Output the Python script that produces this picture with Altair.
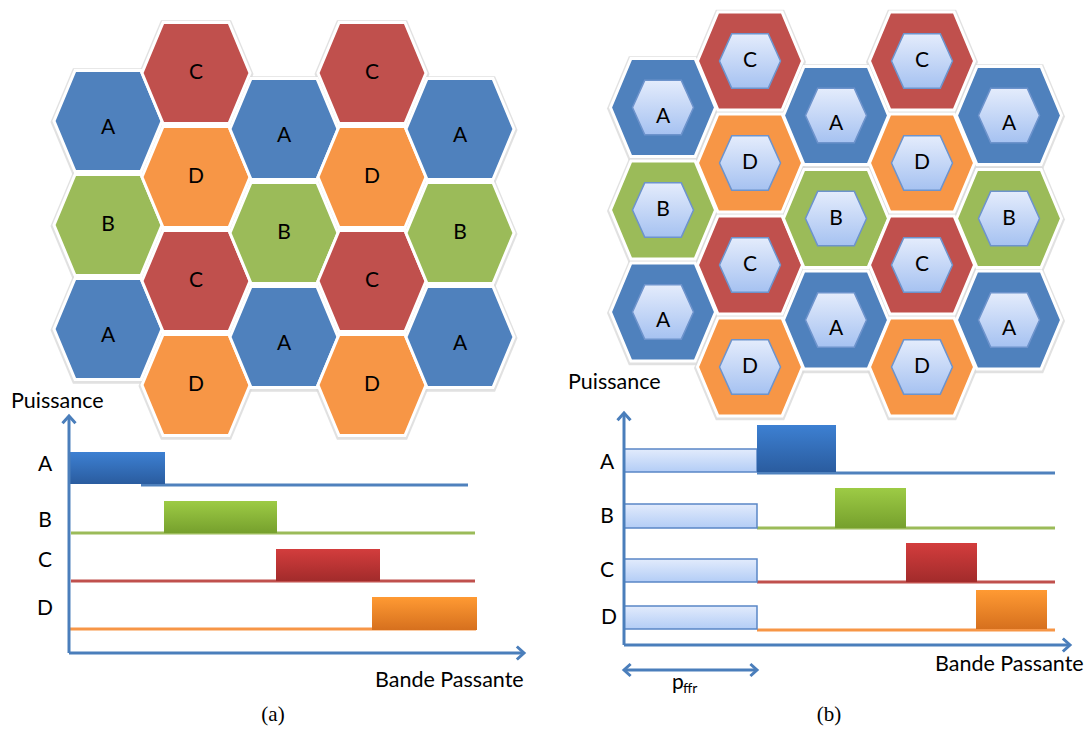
import altair as alt
import pandas as pd

# ---------------- data ----------------
letters = ["A", "B", "C", "D"]
hex_colors = ["#4F81BD", "#9BBB59", "#C0504D", "#F79646"]

# (a) hexagonal layout: column centres and the cells of each column
left_col_x = [108, 196, 284, 372, 460]
left_col_letters = [["A", "B", "A"], ["C", "D", "C", "D"], ["A", "B", "A"], ["C", "D", "C", "D"], ["A", "B", "A"]]
left_col_y = [[121, 225, 329], [73, 177, 281, 385], [129, 233, 337], [73, 177, 281, 385], [129, 233, 337]]
left_label_y = [[128, 225, 336], [73, 177, 281, 385], [136, 233, 344], [73, 177, 281, 385], [136, 233, 344]]

# (b) hexagonal layout
right_col_x = [663, 750, 836, 922, 1009]
right_col_letters = left_col_letters
right_col_y = [[107.5, 210, 312], [61, 163, 265, 367], [115.5, 218.5, 320], [61, 163, 265, 367], [115.5, 218.5, 320]]
right_label_y = [[117, 210, 321], [61, 163, 265, 367], [124, 218.5, 329], [61, 163, 265, 367], [124, 218.5, 329]]

# (a) spectrum: bands and base lines
a_bar_x0 = [69, 164, 276, 372]
a_bar_x1 = [165, 277, 380, 477]
a_bar_top = [452, 501, 549, 597]
a_bar_bot = [484, 533, 581, 630]
a_line_x0 = [141, 71, 71, 69]
a_line_x1 = [468, 475, 475, 476]
a_line_y = [485, 533, 581, 629]
a_lab_x = [45, 45, 45, 45]
a_lab_y = [465, 521, 561, 609]

# (b) spectrum
b_bar_x0 = [757, 835, 906, 976]
b_bar_x1 = [836, 906, 977, 1047]
b_bar_top = [425, 488, 543, 590]
b_bar_bot = [472, 528, 582, 629]
b_ffr_x0 = [624, 624, 624, 624]
b_ffr_x1 = [757, 757, 757, 757]
b_ffr_top = [449, 504, 559, 606]
b_ffr_bot = [472, 528, 582, 629]
b_line_x0 = [757, 757, 757, 757]
b_line_x1 = [1055, 1055, 1055, 1055]
b_line_y = [473, 528, 582, 630]
b_lab_x = [607, 607, 607, 609]
b_lab_y = [463, 517, 571, 618]

# axes of the two spectra: origin x, origin y, top of y arrow, end of x arrow
axes_ox = [69, 624]
axes_oy = [653, 645]
axes_ytip = [416, 413]
axes_xtip = [524, 1070]

# p_ffr span
ffr_x = [624, 757]
ffr_y = [670, 670]

texts = ["Puissance", "Puissance", "Bande Passante", "Bande Passante"]
texts_x = [11, 568, 375, 935]
texts_y = [402, 383, 681, 665]
captions = ["(a)", "(b)"]
captions_x = [273, 829]
captions_y = [715, 715]

# ---------------- helpers ----------------
XS = alt.Scale(domain=[8, 1084], nice=False, zero=False)
YS = alt.Scale(domain=[8, 726], nice=False, zero=False, reverse=True)
FONT = "Lato"
AXIS_BLUE = "#4A7EBB"

HEX = "M-1,0L-0.61,-0.935L0.61,-0.935L1,0L0.61,0.935L-0.61,0.935Z"
HEX_IN = "M-1,0L-0.6,-0.89L0.6,-0.89L1,0L0.6,0.89L-0.6,0.89Z"
CHEV_UP = "M-1,1.1L0,0L1,1.1"
CHEV_RIGHT = "M-1.1,-1L0,0L-1.1,1"
CHEV_LEFT = "M1.1,-1L0,0L1.1,1"


def X(f):
    return alt.X(f, type="quantitative", scale=XS, axis=None)


def Y(f):
    return alt.Y(f, type="quantitative", scale=YS, axis=None)


def grad(top, bottom):
    return alt.Gradient(
        gradient="linear", x1=0, y1=0, x2=0, y2=1,
        stops=[alt.GradientStop(color=top, offset=0), alt.GradientStop(color=bottom, offset=1)],
    )


def hex_df(col_x, col_letters, col_y, lab_y):
    rows = []
    for cx, ls, ys, lys in zip(col_x, col_letters, col_y, lab_y):
        for l, y, ly in zip(ls, ys, lys):
            rows.append({"x": cx, "y": y, "letter": l, "ly": ly})
    return pd.DataFrame(rows)


color_scale = alt.Scale(domain=letters, range=hex_colors)

left_hex = hex_df(left_col_x, left_col_letters, left_col_y, left_label_y)
right_hex = hex_df(right_col_x, right_col_letters, right_col_y, right_label_y)

layers = []


def add_hexes(df, width, inner_width=None):
    base = alt.Chart(df)
    layers.append(base.mark_point(shape=HEX, size=(width + 7) ** 2, filled=True, fill="#d9d9d9",
                                  opacity=1, fillOpacity=0.8, strokeWidth=0, yOffset=1)
                  .encode(x=X("x"), y=Y("y")))
    layers.append(base.mark_point(shape=HEX, size=width ** 2, filled=True, opacity=1, fillOpacity=1,
                                  stroke="white", strokeWidth=3)
                  .encode(x=X("x"), y=Y("y"), fill=alt.Fill("letter:N", scale=color_scale, legend=None)))
    if inner_width:
        layers.append(base.mark_point(shape=HEX_IN, size=inner_width ** 2, filled=True, opacity=1,
                                      fill=grad("#E4ECFC", "#A6C2F1"), stroke="#6D93CC", strokeWidth=1.5)
                      .encode(x=X("x"), y=Y("y")))
    layers.append(base.mark_text(font=FONT, fontSize=21, color="black", align="center", baseline="middle")
                  .encode(x=X("x"), y=Y("ly"), text="letter:N"))


add_hexes(left_hex, 108)
add_hexes(right_hex, 105, 61)

# base lines
lines = pd.DataFrame({
    "x0": a_line_x0 + b_line_x0, "x1": a_line_x1 + b_line_x1, "y": a_line_y + b_line_y,
    "letter": letters + letters})
layers.append(alt.Chart(lines).mark_rule(strokeWidth=3, strokeCap="butt").encode(
    x=X("x0"), x2="x1", y=Y("y"), color=alt.Color("letter:N", scale=color_scale, legend=None)))

# p_ffr boxes
ffr = pd.DataFrame({"x0": b_ffr_x0, "x1": b_ffr_x1, "t": b_ffr_top, "b": b_ffr_bot})
layers.append(alt.Chart(ffr).mark_rect(fill=grad("#E2EBFC", "#B3CDF6"), stroke="#5A87C6", strokeWidth=1.5)
              .encode(x=X("x0"), x2="x1", y=Y("t"), y2="b"))

# coloured bands
bar_grads = {"A": ("#3D80D2", "#2A5C9F"), "B": ("#9DCB45", "#76A02D"),
             "C": ("#D33D3D", "#A22B2B"), "D": ("#FF9A33", "#D6701E")}
bars = pd.DataFrame({"letter": letters + letters, "x0": a_bar_x0 + b_bar_x0, "x1": a_bar_x1 + b_bar_x1,
                     "t": a_bar_top + b_bar_top, "b": a_bar_bot + b_bar_bot})
for l in letters:
    top, bot = bar_grads[l]
    layers.append(alt.Chart(bars[bars.letter == l]).mark_rect(fill=grad(top, bot))
                  .encode(x=X("x0"), x2="x1", y=Y("t"), y2="b"))

# axes
ax = pd.DataFrame({"ox": axes_ox, "oy": axes_oy, "yt": axes_ytip, "xt": axes_xtip})
layers.append(alt.Chart(ax).mark_rule(color=AXIS_BLUE, strokeWidth=3, strokeCap="butt")
              .encode(x=X("ox"), y=Y("oy"), y2="yt"))
layers.append(alt.Chart(ax).mark_rule(color=AXIS_BLUE, strokeWidth=3, strokeCap="butt")
              .encode(x=X("ox"), x2="xt", y=Y("oy")))
layers.append(alt.Chart(ax).mark_point(shape=CHEV_UP, size=169, filled=False, stroke=AXIS_BLUE,
                                       strokeWidth=3, opacity=1, strokeJoin="miter")
              .encode(x=X("ox"), y=Y("yt")))
layers.append(alt.Chart(ax).mark_point(shape=CHEV_RIGHT, size=169, filled=False, stroke=AXIS_BLUE,
                                       strokeWidth=3, opacity=1, strokeJoin="miter")
              .encode(x=X("xt"), y=Y("oy")))

# p_ffr double arrow
fa = pd.DataFrame({"x0": [ffr_x[0]], "x1": [ffr_x[1]], "y": [ffr_y[0]]})
layers.append(alt.Chart(fa).mark_rule(color=AXIS_BLUE, strokeWidth=3).encode(x=X("x0"), x2="x1", y=Y("y")))
layers.append(alt.Chart(fa).mark_point(shape=CHEV_LEFT, size=144, filled=False, stroke=AXIS_BLUE,
                                       strokeWidth=3, opacity=1).encode(x=X("x0"), y=Y("y")))
layers.append(alt.Chart(fa).mark_point(shape=CHEV_RIGHT, size=144, filled=False, stroke=AXIS_BLUE,
                                       strokeWidth=3, opacity=1).encode(x=X("x1"), y=Y("y")))
pt = pd.DataFrame({"x": [672], "y": [683], "t": ["p"]})
layers.append(alt.Chart(pt).mark_text(font=FONT, fontSize=21, align="left", baseline="middle", color="black")
              .encode(x=X("x"), y=Y("y"), text="t:N"))
st = pd.DataFrame({"x": [683], "y": [689], "t": ["ffr"]})
layers.append(alt.Chart(st).mark_text(font=FONT, fontSize=14, align="left", baseline="middle", color="black")
              .encode(x=X("x"), y=Y("y"), text="t:N"))

# band labels
labs = pd.DataFrame({"x": a_lab_x + b_lab_x, "y": a_lab_y + b_lab_y, "t": letters + letters})
layers.append(alt.Chart(labs).mark_text(font=FONT, fontSize=21, align="center", baseline="middle", color="black")
              .encode(x=X("x"), y=Y("y"), text="t:N"))

# axis titles
tt = pd.DataFrame({"x": texts_x, "y": texts_y, "t": texts})
layers.append(alt.Chart(tt).mark_text(font=FONT, fontSize=21.5, align="left", baseline="middle", color="black")
              .encode(x=X("x"), y=Y("y"), text="t:N"))

# captions
cp = pd.DataFrame({"x": captions_x, "y": captions_y, "t": captions})
layers.append(alt.Chart(cp).mark_text(font="Liberation Serif", fontSize=21, align="center",
                                      baseline="middle", color="black")
              .encode(x=X("x"), y=Y("y"), text="t:N"))

chart = alt.layer(*layers).properties(
    width=1076, height=718, padding=0, autosize=alt.AutoSizeParams(type="none"),
    background="white",
).configure_view(stroke=None)

chart.save("out.html", embed_options={"renderer": "svg", "actions": False})
